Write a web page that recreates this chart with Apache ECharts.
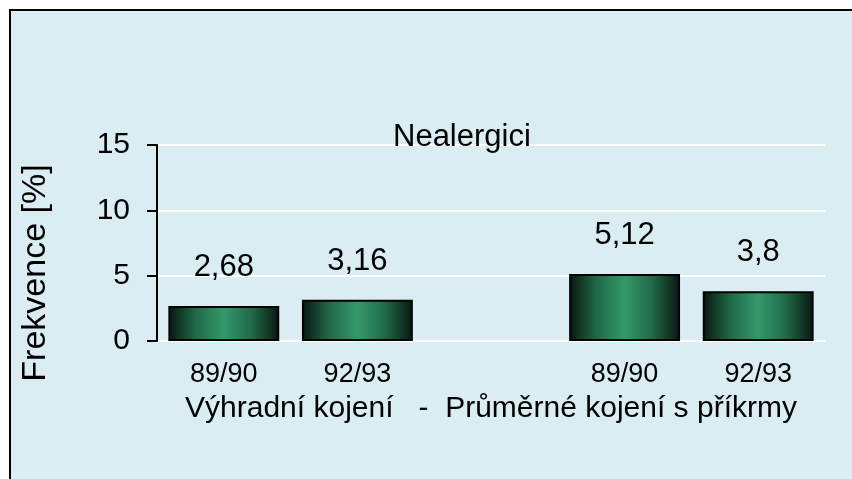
<!DOCTYPE html>
<html>
<head>
<meta charset="utf-8">
<script src="https://cdn.jsdelivr.net/npm/echarts@6/dist/echarts.min.js"></script>
<style>
  html, body { margin: 0; padding: 0; background: #fff; }
  #main { width: 852px; height: 479px; }
</style>
</head>
<body>
<div id="main"></div>
<script>
// data
var categories = ['89/90', '92/93', '', '89/90', '92/93'];
var values = [2.68, 3.16, null, 5.12, 3.8];
var yTicks = [0, 5, 10, 15];
var chartTitle = 'Nealergici';
var yName = 'Frekvence [%]';
var xName = 'Výhradní kojení   -  Průměrné kojení s příkrmy';

var font = 'Liberation Sans, Arial, sans-serif';
var bg = '#daedf3';

var myChart = echarts.init(document.getElementById('main'));
var option = {
    backgroundColor: '#fff',
    animation: false,
    graphic: [
        {
            type: 'rect', z: -10,
            shape: { x: 10, y: 10, width: 900, height: 500 },
            style: { fill: bg, stroke: '#000', lineWidth: 2 }
        },
        {
            // y axis title
            type: 'text', z: 10,
            x: 36, y: 273, rotation: Math.PI / 2,
            style: {
                text: yName, fill: '#000', font: '34px ' + font,
                textAlign: 'center', textVerticalAlign: 'middle'
            }
        }
    ],
    title: {
        text: chartTitle,
        left: 393, top: 122,
        padding: 0,
        textStyle: { fontFamily: font, fontSize: 31, fontWeight: 'normal', color: '#000' }
    },
    grid: { left: 157, right: 27, top: 145, bottom: 138, containLabel: false },
    xAxis: {
        type: 'category',
        data: categories,
        axisLine: { show: false },
        axisTick: { show: false },
        axisLabel: { margin: 20, fontFamily: font, fontSize: 27, color: '#000' },
        name: xName,
        nameLocation: 'middle',
        nameGap: 53,
        nameTextStyle: { fontFamily: font, fontSize: 30, color: '#000' }
    },
    yAxis: {
        type: 'value',
        min: 0, max: 15, interval: 5,
        axisLine: { show: true, lineStyle: { color: '#000', width: 2 } },
        axisTick: { show: true, inside: false, length: 10, lineStyle: { color: '#000', width: 2 } },
        axisLabel: {
            margin: 27, fontFamily: font, fontSize: 30, color: '#000',
            formatter: function (v) { return yTicks.indexOf(v) >= 0 ? String(v) : ''; }
        },
        splitLine: { show: true, lineStyle: { color: '#fff', width: 2 } }
    },
    series: [{
        type: 'bar',
        data: values,
        barWidth: '83%',
        itemStyle: {
            borderColor: '#000',
            borderWidth: 2,
            color: new echarts.graphic.LinearGradient(0, 0, 1, 0, [
                { offset: 0, color: '#08160f' },
                { offset: 0.25, color: '#1f6a48' },
                { offset: 0.5, color: '#33996b' },
                { offset: 0.75, color: '#1f6a48' },
                { offset: 1, color: '#08160f' }
            ])
        },
        label: {
            show: true,
            position: 'top',
            distance: 23,
            fontFamily: font, fontSize: 31, color: '#000',
            formatter: function (p) { return String(p.value).replace('.', ','); }
        }
    }]
};
myChart.setOption(option);
</script>
</body>
</html>
